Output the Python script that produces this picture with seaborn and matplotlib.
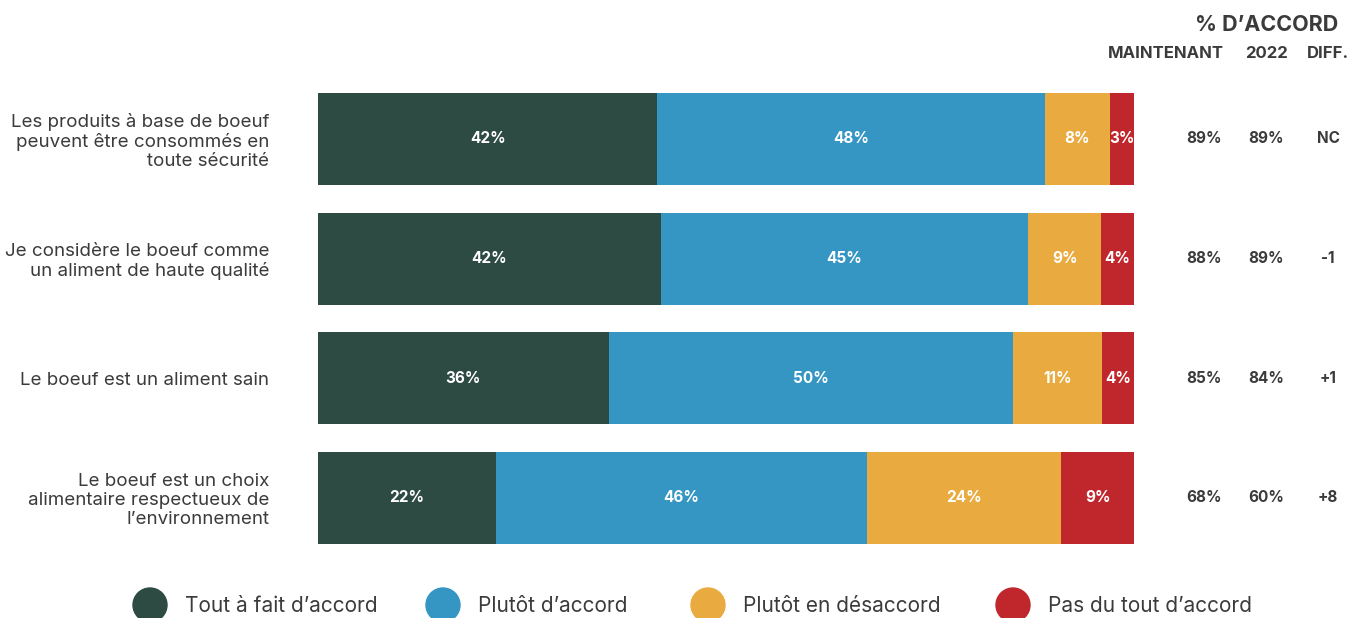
import pandas as pd
import matplotlib.pyplot as plt
import matplotlib.transforms as mtransforms
from matplotlib.patches import Ellipse
import seaborn as sns

# Data
statements = [
    "Les produits à base de boeuf\npeuvent être consommés en\ntoute sécurité",
    "Je considère le boeuf comme\nun aliment de haute qualité",
    "Le boeuf est un aliment sain",
    "Le boeuf est un choix\nalimentaire respectueux de\nl’environnement",
]
levels = ["Tout à fait d’accord", "Plutôt d’accord", "Plutôt en désaccord", "Pas du tout d’accord"]
colors = ["#2d4b43", "#3595c3", "#e9ab3f", "#c0272d"]

tout_a_fait = [42, 42, 36, 22]
plutot_accord = [48, 45, 50, 46]
plutot_desaccord = [8, 9, 11, 24]
pas_du_tout = [3, 4, 4, 9]

maintenant = ["89%", "88%", "85%", "68%"]
annee_2022 = ["89%", "89%", "84%", "60%"]
diff = ["NC", "-1", "+1", "+8"]

sns.set_theme(style="white")
plt.rcParams["font.family"] = ["Inter", "DejaVu Sans"]
text_color = "#3b3b3b"

df = pd.DataFrame({"statement": statements})
raw = pd.DataFrame(dict(zip(levels, [tout_a_fait, plutot_accord, plutot_desaccord, pas_du_tout])))
shares = raw.div(raw.sum(axis=1), axis=0) * 100
cum = shares.cumsum(axis=1)
for lvl in levels:
    df[lvl] = cum[lvl]

fig = plt.figure(figsize=(13.5, 6.18), dpi=100)
ax = fig.add_axes([318 / 1350, 0.0974, 816 / 1350, 0.7746])

# stacked bars: draw cumulative totals from the widest down
for lvl, c in reversed(list(zip(levels, colors))):
    sns.barplot(data=df, x=lvl, y="statement", color=c, orient="h",
                width=0.77, linewidth=0, saturation=1, ax=ax)

ax.set_xlim(0, 100)
ax.set_ylim(3.5, -0.5)
ax.set_xlabel("")
ax.set_ylabel("")
ax.set_xticks([])
sns.despine(ax=ax, left=True, bottom=True)
ax.tick_params(axis="y", length=0, pad=35)
for lab in ax.get_yticklabels():
    lab.set_fontsize(13.5)
    lab.set_color(text_color)
    lab.set_linespacing(1.15)

# labels inside segments
for i in range(len(statements)):
    left = 0
    for lvl in levels:
        w = shares.loc[i, lvl]
        ax.text(left + w / 2, i, f"{raw.loc[i, lvl]}%", ha="center", va="center",
                color="white", fontsize=11, fontweight="bold")
        left += w

# right-hand columns
tr = mtransforms.blended_transform_factory(fig.transFigure, ax.transData)
for i in range(len(statements)):
    ax.text(1222 / 1350, i, maintenant[i], transform=tr, ha="right", va="center",
            fontsize=11, fontweight="bold", color=text_color)
    ax.text(1266 / 1350, i, annee_2022[i], transform=tr, ha="center", va="center",
            fontsize=11, fontweight="bold", color=text_color)
    ax.text(1328 / 1350, i, diff[i], transform=tr, ha="center", va="center",
            fontsize=11, fontweight="bold", color=text_color)

fig.text(1338 / 1350, 1 - 25 / 618, "% D’ACCORD", ha="right", va="center",
         fontsize=15.5, fontweight="bold", color=text_color)
fig.text(1224 / 1350, 1 - 53 / 618, "MAINTENANT", ha="right", va="center",
         fontsize=12, fontweight="bold", color=text_color)
fig.text(1266 / 1350, 1 - 53 / 618, "2022", ha="center", va="center",
         fontsize=12, fontweight="bold", color=text_color)
fig.text(1328 / 1350, 1 - 53 / 618, "DIFF.", ha="center", va="center",
         fontsize=12, fontweight="bold", color=text_color)

# legend with circles
legend_x = [150, 443, 708, 1013]
for x, lvl, c in zip(legend_x, levels, colors):
    fig.add_artist(Ellipse((x / 1350, 1 - 605 / 618), 34 / 1350, 34 / 618,
                           transform=fig.transFigure, color=c))
    fig.text((x + 35) / 1350, 1 - 606 / 618, lvl, ha="left", va="center",
             fontsize=15, color=text_color)

fig.savefig("out.png", dpi=100)
